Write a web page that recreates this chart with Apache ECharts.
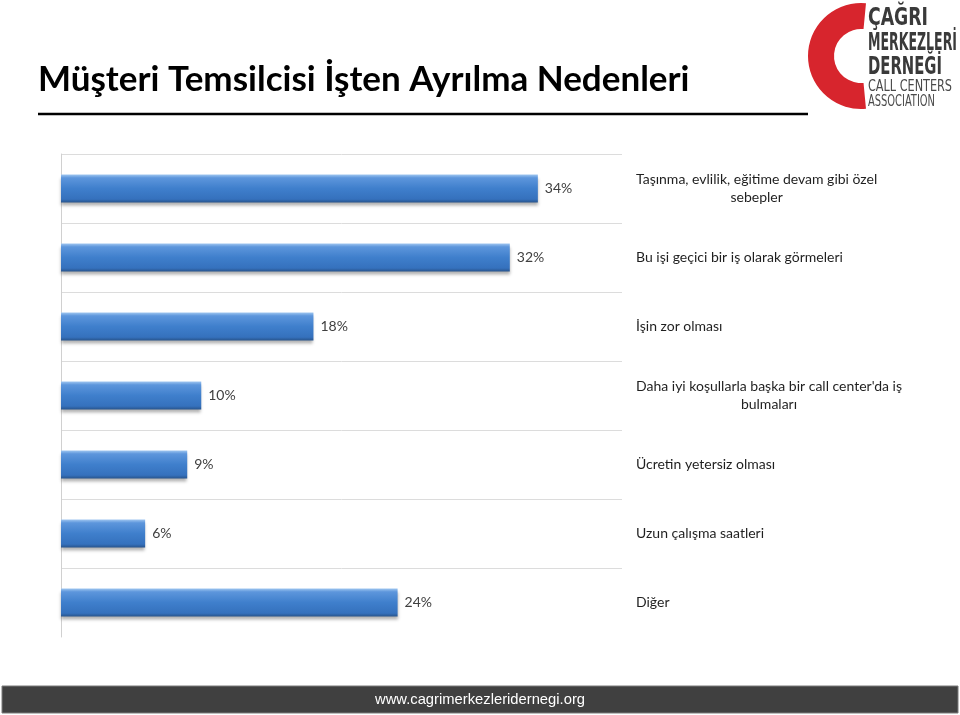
<!DOCTYPE html>
<html>
<head>
<meta charset="utf-8">
<script src="https://cdn.jsdelivr.net/npm/echarts@6/dist/echarts.min.js"></script>
<style>
  html, body { margin: 0; padding: 0; background: #fff; }
  #chart { width: 960px; height: 715px; }
</style>
</head>
<body>
<div id="chart"></div>
<script>
// veriler
const reasons = [
  'Taşınma, evlilik, eğitime devam gibi özel\nsebepler',
  'Bu işi geçici bir iş olarak görmeleri',
  'İşin zor olması',
  "Daha iyi koşullarla başka bir call center'da iş\nbulmaları",
  'Ücretin yetersiz olması',
  'Uzun çalışma saatleri',
  'Diğer'
];
const shares = [34, 32, 18, 10, 9, 6, 24];

const titleText = 'Müşteri Temsilcisi İşten Ayrılma Nedenleri';
const footerText = 'www.cagrimerkezleridernegi.org';
const logoLines = ['ÇAĞRI', 'MERKEZLERİ', 'DERNEĞİ', 'CALL CENTERS', 'ASSOCIATION'];

// logo yazılarını hedef genişliğe sığdırmak için
const ctx = document.createElement('canvas').getContext('2d');
function fitScale(text, font, target) {
  ctx.font = font;
  return target / ctx.measureText(text).width;
}

const logoFont = '"Liberation Sans Narrow", "DejaVu Sans Condensed", sans-serif';
const logoSpec = [
  { y: 18, size: 25, w: 60, weight: 'bold ', color: '#3a3a3a' },
  { y: 43, size: 25, w: 89, weight: 'bold ', color: '#3a3a3a' },
  { y: 67, size: 25, w: 74, weight: 'bold ', color: '#3a3a3a' },
  { y: 87, size: 16, w: 84, weight: '', color: '#4a4a4a' },
  { y: 102, size: 16, w: 67, weight: '', color: '#4a4a4a' }
];
const logoTexts = logoLines.map((t, i) => {
  const s = logoSpec[i];
  const font = s.weight + s.size + 'px ' + logoFont;
  return {
    type: 'text',
    x: 868, y: s.y,
    scaleX: fitScale(t, font, s.w),
    style: {
      text: t, fill: s.color, font: font,
      textAlign: 'left', textVerticalAlign: 'middle'
    }
  };
});

const labelFont = 'Lato, "Open Sans", sans-serif';
// alttaki çizgi görünmüyor
const gridColors = ['#dcdcdc', '#dcdcdc', '#dcdcdc', '#dcdcdc', '#dcdcdc', '#dcdcdc', '#dcdcdc', 'rgba(0,0,0,0)'];

const myChart = echarts.init(document.getElementById('chart'));
const options = {
  backgroundColor: '#fff',
  animation: false,
  grid: { left: 61, right: 338, top: 154, bottom: 78 },
  xAxis: {
    type: 'value', min: 0, max: 40,
    show: false
  },
  yAxis: [
    {
      type: 'category', data: reasons, inverse: true, position: 'left',
      axisLine: { show: true, lineStyle: { color: '#d0d0d0', width: 1 } },
      axisTick: { show: false },
      axisLabel: { show: false },
      splitLine: { show: true, lineStyle: { color: gridColors, width: 1 } }
    },
    {
      type: 'category', data: reasons, inverse: true, position: 'right',
      axisLine: { show: false },
      axisTick: { show: false },
      splitLine: { show: false },
      axisLabel: {
        margin: 14,
        align: 'left',
        formatter: v => v.split('\n').map(l => '{c|' + l + '}').join('\n'),
        rich: {
          c: { align: 'center', fontSize: 14, lineHeight: 18, color: '#1f1f1f', fontFamily: labelFont }
        }
      }
    }
  ],
  series: [
    {
      type: 'bar',
      data: shares,
      yAxisIndex: 0,
      barWidth: 28,
      itemStyle: {
        color: new echarts.graphic.LinearGradient(0, 0, 0, 1, [
          { offset: 0, color: '#9fc6f0' },
          { offset: 0.12, color: '#5d96dc' },
          { offset: 0.5, color: '#3f7fcc' },
          { offset: 0.88, color: '#3571bd' },
          { offset: 1, color: '#28548c' }
        ]),
        shadowColor: 'rgba(0,0,0,0.3)',
        shadowBlur: 3,
        shadowOffsetY: 3
      },
      label: {
        show: true, position: 'right', distance: 7,
        formatter: '{c}%',
        fontSize: 14, color: '#404040', fontFamily: labelFont
      }
    }
  ],
  graphic: [
    {
      type: 'text', x: 38, y: 80,
      style: {
        text: titleText, fill: '#000',
        font: 'bold 35px ' + labelFont,
        textAlign: 'left', textVerticalAlign: 'middle'
      }
    },
    {
      type: 'line',
      shape: { x1: 38, y1: 114, x2: 808, y2: 114 },
      style: { stroke: '#000', lineWidth: 2.5 }
    },
    {
      type: 'sector',
      shape: { cx: 861, cy: 56, r: 53, r0: 27, startAngle: Math.PI * 0.47, endAngle: Math.PI * 1.53, clockwise: true },
      style: { fill: '#d7252d' }
    },
    ...logoTexts,
    {
      type: 'rect',
      shape: { x: 2, y: 686, width: 956, height: 27 },
      style: { fill: '#404040', stroke: '#7a7a7a', lineWidth: 1 }
    },
    {
      type: 'text', x: 480, y: 700,
      scaleX: fitScale(footerText, '15px "Liberation Sans", Arial, sans-serif', 210),
      style: {
        text: footerText, fill: '#fff',
        font: '15px "Liberation Sans", Arial, sans-serif',
        textAlign: 'center', textVerticalAlign: 'middle'
      }
    }
  ]
};
myChart.setOption(options);

window.addEventListener('resize', () => {
  myChart.resize();
});
</script>
</body>
</html>
